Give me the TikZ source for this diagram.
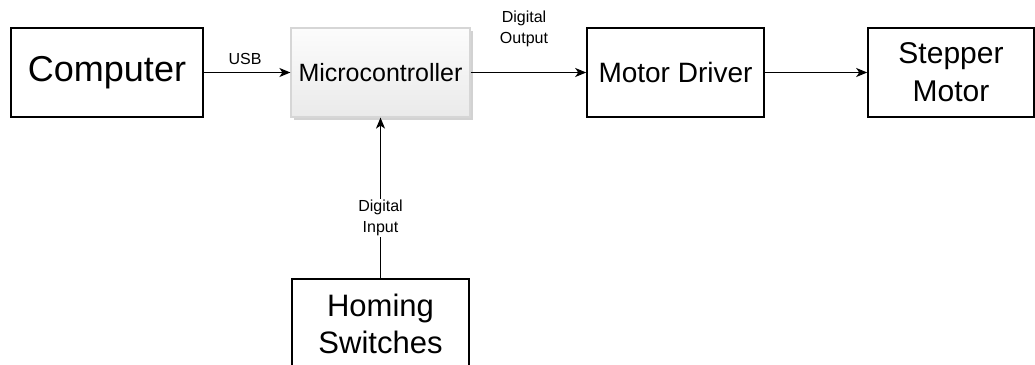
\documentclass[tikz,border=0pt]{standalone}
\usepackage{fontspec}
\setmainfont{Liberation Sans}
\usetikzlibrary{arrows.meta,shadows}
\definecolor{mcborder}{HTML}{D6D6D6}
\definecolor{mctop}{HTML}{FCFCFC}
\definecolor{mcbot}{HTML}{EAEAEA}
\tikzset{
  blk/.style={draw=black, line width=1.6pt, fill=white, inner sep=0pt, align=center},
  mcu/.style={draw=mcborder, line width=1.2pt, top color=mctop, bottom color=mcbot,
    inner sep=0pt, align=center,
    drop shadow={shadow xshift=3pt, shadow yshift=-3pt, fill=black!25, opacity=0.7}},
  conn/.style={line width=1.5pt, -{Stealth[length=11pt, width=9pt, inset=3pt]}},
  lbl/.style={font=\fontsize{16}{21}\selectfont, align=center, inner sep=1.5pt}
}
\begin{document}
\begin{tikzpicture}[x=1pt, y=-1pt]
  \useasboundingbox (0,0) rectangle (1035,364);
  \begin{scope}
    \clip (0,0) rectangle (1035,364);
    % boxes
    \node[blk, minimum width=192pt, minimum height=89pt,
      font=\fontsize{36}{40}\selectfont] (comp) at (107,72.5) {Computer};
    \node[mcu, minimum width=179pt, minimum height=89pt,
      font=\fontsize{25}{30}\selectfont] (mcu) at (380.5,72.5) {Microcontroller};
    \node[blk, minimum width=177pt, minimum height=89pt,
      font=\fontsize{28}{32}\selectfont] (drv) at (675.5,72.5) {Motor Driver};
    \node[blk, minimum width=166pt, minimum height=89pt,
      font=\fontsize{30}{38}\selectfont] (step) at (951,72.5) {Stepper\\Motor};
    \node[blk, minimum width=177pt, minimum height=89pt,
      font=\fontsize{31}{37}\selectfont] (home) at (380.5,323.5) {Homing\\Switches};
    % connectors
    \draw[conn] (comp.east) -- (mcu.west);
    \draw[conn] (mcu.east) -- (drv.west);
    \draw[conn] (drv.east) -- (step.west);
    \draw[conn] (home.north) -- (mcu.south)
      node[lbl, pos=0.375, fill=white] (lin) {Digital\\Input};
    % labels
    \node[lbl] (lusb) at (245,59) {USB};
    \node[lbl] (lout) at (524,28.5) {Digital\\Output};
  \end{scope}
\end{tikzpicture}
\end{document}
